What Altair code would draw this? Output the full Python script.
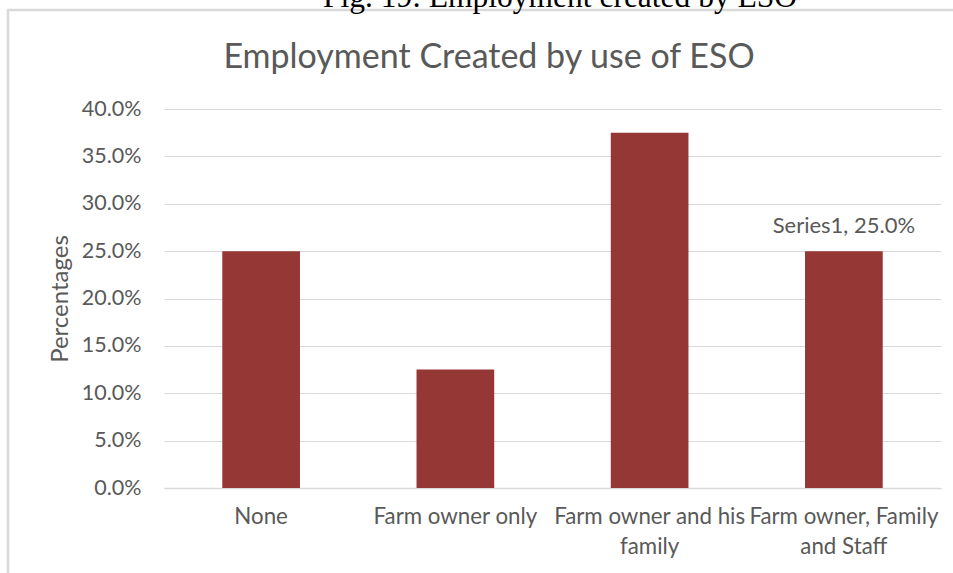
import altair as alt
import pandas as pd

categories = ["None", "Farm owner only", "Farm owner and his family", "Farm owner, Family and Staff"]
values = [0.25, 0.125, 0.375, 0.25]
y_ticks = [0.0, 0.05, 0.10, 0.15, 0.20, 0.25, 0.30, 0.35, 0.40]
series_name = "Series1"

df = pd.DataFrame({"category": categories, "value": values})
df["label"] = [f"{series_name}, {v*100:.1f}%" for v in values]

FONT = "Lato"
GREY = "#595959"
W, H = 777, 379
PL, PT = 164, 109

label_expr = (
    "datum.value == 'Farm owner and his family' ? ['Farm owner and his', 'family'] : "
    "datum.value == 'Farm owner, Family and Staff' ? ['Farm owner, Family', 'and Staff'] : datum.value"
)

x = alt.X(
    "category:N",
    sort=categories,
    scale=alt.Scale(paddingInner=0.6, paddingOuter=0.3),
    axis=alt.Axis(
        title=None, labelAngle=0, labelFontSize=22.3, labelFont=FONT, labelColor=GREY,
        labelExpr=label_expr, labelLineHeight=30, labelPadding=17, ticks=False,
        domainColor="#d9d9d9", domainWidth=1.5, labelLimit=400, labelOverlap=False,
    ),
)
y = alt.Y(
    "value:Q",
    scale=alt.Scale(domain=[0, 0.4]),
    axis=alt.Axis(
        title="Percentages", values=y_ticks, format=".1%", labelFontSize=21.5, labelFont=FONT,
        labelColor=GREY, labelPadding=23, ticks=False, domain=False, gridColor="#d9d9d9",
        titleFontSize=24, titleFont=FONT, titleColor=GREY, titleFontWeight="normal",
        titleX=-92, titleY=H / 2,
    ),
)

base = alt.Chart(df)
bars = base.mark_bar(color="#953735").encode(x=x, y=y)
lab = (
    base.transform_filter(alt.datum.category == "Farm owner, Family and Staff")
    .mark_text(dy=-18, baseline="alphabetic", fontSize=22, font=FONT, color=GREY)
    .encode(x=alt.X("category:N", sort=categories), y="value:Q", text="label:N")
)

border = alt.Chart(pd.DataFrame({"a": [0]})).mark_rect(
    fill=None, stroke="#d9d9d9", strokeWidth=2.5
).encode(x=alt.value(8 - PL), x2=alt.value(W + 60), y=alt.value(10 - PT), y2=alt.value(H + 200))

title = alt.Chart(pd.DataFrame({"t": ["Employment Created by use of ESO"]})).mark_text(
    font=FONT, fontSize=34, color=GREY, baseline="alphabetic", align="center"
).encode(x=alt.value(489 - PL), y=alt.value(68 - PT), text="t:N")

caption = alt.Chart(pd.DataFrame({"t": ["Fig. 19: Employment created by ESO"]})).mark_text(
    font="Liberation Serif", fontSize=31.5, color="#000000", baseline="alphabetic", align="center"
).encode(x=alt.value(560 - PL), y=alt.value(7 - PT), text="t:N")

chart = alt.layer(border, bars, lab, title, caption).properties(
    width=W, height=H,
    autosize=alt.AutoSizeParams(type="none"),
    padding={"left": PL, "top": PT, "right": 953 - PL - W, "bottom": 573 - PT - H},
).configure(background="white").configure_view(stroke=None)

chart.save("out.html", embed_options={"renderer": "svg", "actions": False})
